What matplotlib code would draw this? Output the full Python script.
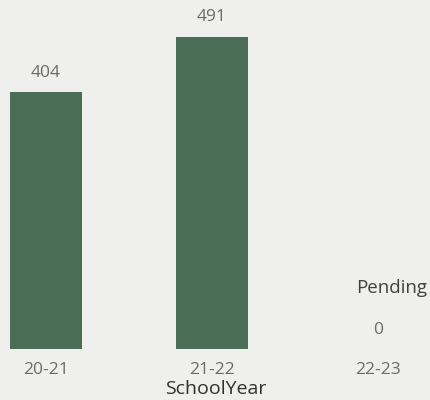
import matplotlib.pyplot as plt

years = ['20-21', '21-22', '22-23']
counts = [404, 491, 0]
status = ['', '', 'Pending']

plt.rcParams['font.family'] = ['Open Sans', 'DejaVu Sans']

bg = '#eff0ee'
bar_color = '#4a6e55'
label_color = '#6a6a6a'

fig = plt.figure(figsize=(4.3, 4.0), dpi=100, facecolor=bg)
ax = fig.add_axes([0, 0.1275, 1, 0.8725])
ax.set_facecolor(bg)

x = list(range(len(years)))
bars = ax.bar(x, counts, width=0.434, color=bar_color)

for xi, v, s in zip(x, counts, status):
    ax.annotate(str(v), (xi, v), xytext=(0, 14), textcoords='offset points',
                ha='center', va='center', fontsize=12.5, color=label_color)
    if s:
        ax.annotate(s, (xi, v), xytext=(10, 44), textcoords='offset points',
                    ha='center', va='center', fontsize=13.5, color='#404040')

ax.set_xlim(-0.277, 2.313)
ax.set_ylim(0, 549)
ax.set_xticks(x)
ax.set_xticklabels(years, fontsize=12.5, color=label_color)
ax.tick_params(axis='x', length=0, pad=9)
ax.set_yticks([])
for sp in ax.spines.values():
    sp.set_visible(False)

fig.text(216 / 430, 1 - 389 / 400, 'SchoolYear', ha='center', va='center',
         fontsize=14, color='#303030')

fig.savefig('out.png', dpi=100, facecolor=bg)
